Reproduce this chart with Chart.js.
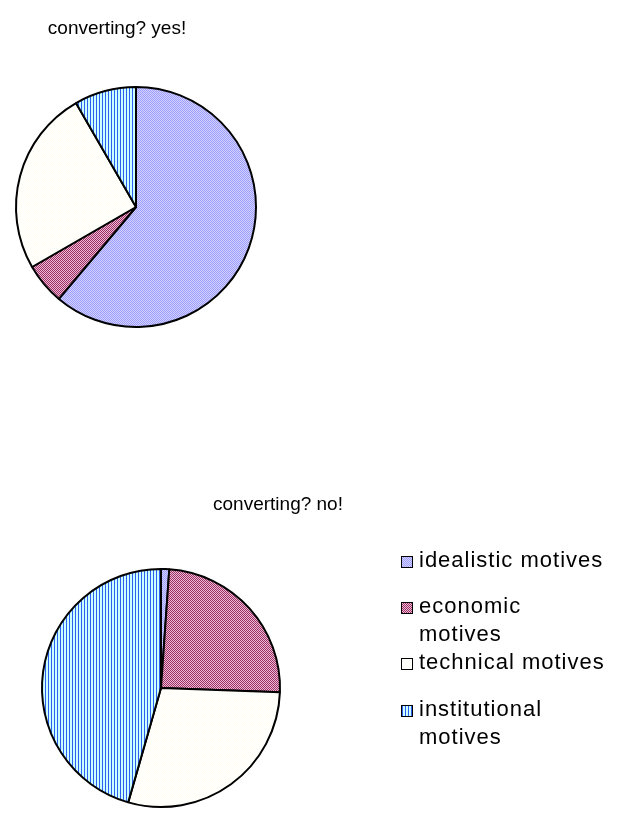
<!DOCTYPE html>
<html>
<head>
<meta charset="utf-8">
<script src="https://cdn.jsdelivr.net/npm/chart.js@4.4.0/dist/chart.umd.min.js"></script>
<style>
  body { margin: 0; background: #ffffff; }
  #wrap { position: relative; width: 625px; height: 831px; }
  canvas { position: absolute; }
</style>
</head>
<body>
<div id="wrap">
  <canvas id="yesChart" style="left:0px;top:0px" width="300" height="360"></canvas>
  <canvas id="noChart" style="left:0px;top:480px" width="625" height="351"></canvas>
</div>
<script>
// data (counts)
const motives = ['idealistic motives', 'economic motives', 'technical motives', 'institutional motives'];
const legendLines = [['idealistic motives'], ['economic', 'motives'], ['technical motives'], ['institutional', 'motives']];
const yesValues = [22, 2, 9, 3];
const noValues = [1, 22, 26, 41];

const FONT = '"Liberation Sans", Arial, sans-serif';

/** @desc build the Excel-like fill patterns */
function makePattern(kind) {
  const c = document.createElement('canvas');
  const ctx = c.getContext('2d');
  if (kind === 'dots') {
    c.width = 2; c.height = 2;
    ctx.fillStyle = '#d4d4ff'; ctx.fillRect(0, 0, 2, 2);
    ctx.fillStyle = '#9c9cff'; ctx.fillRect(0, 0, 1, 1); ctx.fillRect(1, 1, 1, 1);
  } else if (kind === 'checks') {
    c.width = 2; c.height = 2;
    ctx.fillStyle = '#f0b8d4'; ctx.fillRect(0, 0, 2, 2);
    ctx.fillStyle = '#993366'; ctx.fillRect(0, 0, 1, 1); ctx.fillRect(1, 1, 1, 1);
  } else if (kind === 'cream') {
    c.width = 2; c.height = 2;
    ctx.fillStyle = '#ffffff'; ctx.fillRect(0, 0, 2, 2);
    ctx.fillStyle = '#fffff6'; ctx.fillRect(0, 0, 1, 1); ctx.fillRect(1, 1, 1, 1);
  } else {
    c.width = 3; c.height = 3;
    ctx.fillStyle = '#ccffff'; ctx.fillRect(0, 0, 3, 3);
    ctx.fillStyle = '#2f5ff0'; ctx.fillRect(0, 0, 1, 3);
  }
  return ctx.createPattern(c, 'repeat');
}
const fills = [makePattern('dots'), makePattern('checks'), makePattern('cream'), makePattern('stripes')];

// draws the legend on the right, like the original
const sideLegend = {
  id: 'sideLegend',
  afterDraw(chart) {
    if (!chart.options.plugins.sideLegend.show) return;
    const ctx = chart.ctx;
    ctx.save();
    ctx.font = '22px ' + FONT;
    ctx.letterSpacing = '1px';
    ctx.textBaseline = 'middle';
    const rows = [81, 127, 183, 230];
    legendLines.forEach((lines, i) => {
      const y = rows[i];
      ctx.fillStyle = fills[i];
      ctx.fillRect(401, y - 5, 11, 11);
      ctx.strokeStyle = '#000'; ctx.lineWidth = 1;
      ctx.strokeRect(401.5, y - 4.5, 11, 11);
      ctx.fillStyle = '#000';
      lines.forEach((t, k) => ctx.fillText(t, 419, y + k * 28));
    });
    ctx.restore();
  }
};

function makeChart(id, values, title, pad, legendOn) {
  return new Chart(document.getElementById(id), {
    type: 'pie',
    data: {
      labels: motives,
      datasets: [{
        data: values,
        backgroundColor: fills,
        borderColor: '#000',
        borderWidth: 2,
        borderAlign: 'center'
      }]
    },
    options: {
      responsive: false,
      animation: false,
      layout: { padding: pad },
      plugins: {
        legend: { display: false },
        tooltip: { enabled: false },
        title: { display: false },
        sideLegend: { show: legendOn }
      }
    },
    plugins: [sideLegend, {
      id: 'titleText',
      afterDraw(chart) {
        const ctx = chart.ctx;
        ctx.save();
        ctx.font = '19px ' + FONT;
        ctx.fillStyle = '#000';
        ctx.textAlign = 'center';
        ctx.textBaseline = 'middle';
        ctx.fillText(title.text, title.x, title.y);
        ctx.restore();
      }
    }]
  });
}

// paddings put the pies where they sit in the original
makeChart('yesChart', yesValues, { text: 'converting? yes!', x: 117, y: 29 },
  { left: 15, top: 86, right: 300 - 257, bottom: 360 - 328 }, false);
makeChart('noChart', noValues, { text: 'converting? no!', x: 278, y: 25 },
  { left: 41, top: 88, right: 625 - 281, bottom: 351 - 328 }, true);
</script>
</body>
</html>
